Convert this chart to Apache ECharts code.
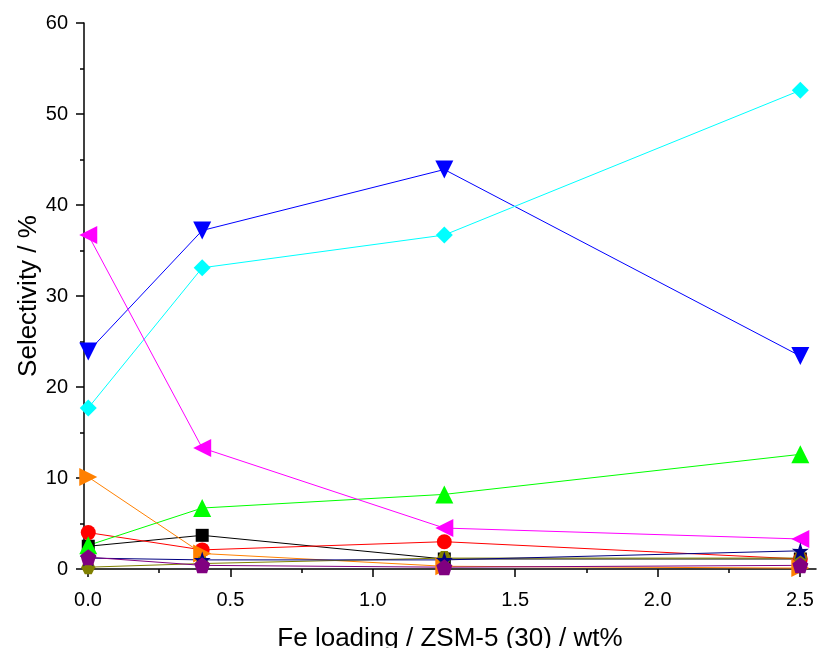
<!DOCTYPE html>
<html>
<head>
<meta charset="utf-8">
<script src="https://cdn.jsdelivr.net/npm/echarts@6/dist/echarts.min.js"></script>
<style>
  html, body { margin: 0; padding: 0; background: #fff; }
  #chart { width: 819px; height: 648px; }
</style>
</head>
<body>
<div id="chart"></div>
<script>
// Fe loading (wt%) on ZSM-5 (30)
const feLoading = [0, 0.4, 1.25, 2.5];

// Product selectivities (%)
const selBlackSquare  = [2.5, 3.7, 1.1, 1.1];
const selRedCircle    = [4.0, 2.1, 3.0, 1.1];
const selGreenUp      = [2.6, 6.7, 8.2, 12.6];
const selBlueDown     = [23.9, 37.2, 43.9, 23.4];
const selCyanDiamond  = [17.7, 33.1, 36.7, 52.6];
const selMagentaLeft  = [36.7, 13.3, 4.5, 3.3];
const selOrangeRight  = [10.1, 1.7, 0.3, 0.1];
const selOliveHex     = [0.2, 0.6, 1.2, 1.2];
const selNavyStar     = [1.2, 1.0, 1.0, 2.0];
const selPurplePent   = [1.3, 0.4, 0.2, 0.4];

const xTicks = [0, 0.5, 1.0, 1.5, 2.0, 2.5];
const yTicks = [0, 10, 20, 30, 40, 50, 60];

const STAR = 'path://M50,0 L61.8,35.3 L97.6,34.5 L69.1,56.2 L79.4,90.5 L50,70 L20.6,90.5 L30.9,56.2 L2.4,34.5 L38.2,35.3 Z';
const PENTAGON = 'path://M50,0 L100,36.3 L80.9,95.1 L19.1,95.1 L0,36.3 Z';
const HEXAGON = 'path://M25,0 L75,0 L100,50 L75,100 L25,100 L0,50 Z';

function pairs(ys) { return feLoading.map((x, i) => [x, ys[i]]); }

function line(name, ys, color, symbol, size, rotate) {
  return {
    name: name,
    type: 'line',
    xAxisIndex: 0,
    yAxisIndex: 0,
    data: pairs(ys),
    symbol: symbol,
    symbolSize: size,
    symbolRotate: rotate || 0,
    showAllSymbol: true,
    lineStyle: { color: color, width: 1 },
    itemStyle: { color: color, borderWidth: 0 },
    emphasis: { disabled: true },
    animation: false
  };
}

const chart = echarts.init(document.getElementById('chart'), null, { renderer: 'canvas' });

const fontFamily = '"Liberation Sans", Arial, sans-serif';

chart.setOption({
  backgroundColor: '#ffffff',
  animation: false,
  grid: [
    // plotting area (axis lines sit at its edges)
    { left: 84, right: 3, top: 23, bottom: 79, containLabel: false, outerBoundsMode: 'none' },
    // same height, horizontal extent = 0 .. 2.5 exactly, for x ticks and labels
    { left: 88, right: 19, top: 23, bottom: 79, containLabel: false, outerBoundsMode: 'none' }
  ],
  xAxis: [
    {
      gridIndex: 0,
      type: 'value',
      min: -0.015,
      max: 2.555,
      axisLine: { show: true, onZero: false, lineStyle: { color: '#000', width: 1.5 } },
      axisTick: { show: false },
      axisLabel: { show: false },
      splitLine: { show: false },
      name: 'Fe loading / ZSM-5 (30) / wt%',
      nameLocation: 'middle',
      nameGap: 57,
      nameMoveOverlap: false,
      nameTextStyle: { fontFamily: fontFamily, fontSize: 26, color: '#000' }
    },
    {
      gridIndex: 1,
      type: 'value',
      min: xTicks[0],
      max: xTicks[xTicks.length - 1],
      interval: 0.5,
      axisLine: { show: false, onZero: false },
      axisTick: { show: true, inside: false, length: 8, lineStyle: { color: '#000', width: 1.5 } },
      minorTick: { show: true, splitNumber: 2, length: 4, lineStyle: { color: '#000', width: 1.5 } },
      axisLabel: {
        show: true, margin: 21, color: '#000', fontFamily: fontFamily, fontSize: 20,
        formatter: v => v.toFixed(1)
      },
      splitLine: { show: false }
    }
  ],
  yAxis: [
    {
      gridIndex: 0,
      type: 'value',
      min: yTicks[0],
      max: yTicks[yTicks.length - 1],
      interval: 10,
      axisLine: { show: true, onZero: false, lineStyle: { color: '#000', width: 1.5 } },
      axisTick: { show: true, inside: false, length: 8, lineStyle: { color: '#000', width: 1.5 } },
      minorTick: { show: true, splitNumber: 2, length: 4, lineStyle: { color: '#000', width: 1.5 } },
      axisLabel: { show: true, margin: 16, color: '#000', fontFamily: fontFamily, fontSize: 20 },
      splitLine: { show: false },
      name: 'Selectivity / %',
      nameLocation: 'middle',
      nameGap: 42,
      nameMoveOverlap: false,
      nameTextStyle: { fontFamily: fontFamily, fontSize: 26, color: '#000' }
    },
    {
      gridIndex: 1,
      type: 'value',
      min: 0,
      max: 60,
      show: false
    }
  ],
  series: [
    line('black', selBlackSquare, '#000000', 'rect', 13),
    line('red', selRedCircle, '#FF0000', 'circle', 15),
    line('green', selGreenUp, '#00FF00', 'triangle', 18),
    line('blue', selBlueDown, '#0000FF', 'triangle', 18, 180),
    line('cyan', selCyanDiamond, '#00FFFF', 'diamond', 17),
    line('magenta', selMagentaLeft, '#FF00FF', 'triangle', 18, 90),
    line('orange', selOrangeRight, '#FF8000', 'triangle', 18, -90),
    line('olive', selOliveHex, '#808000', HEXAGON, 14),
    line('navy', selNavyStar, '#000080', STAR, 17),
    line('purple', selPurplePent, '#800080', PENTAGON, 16)
  ]
});
</script>
</body>
</html>
